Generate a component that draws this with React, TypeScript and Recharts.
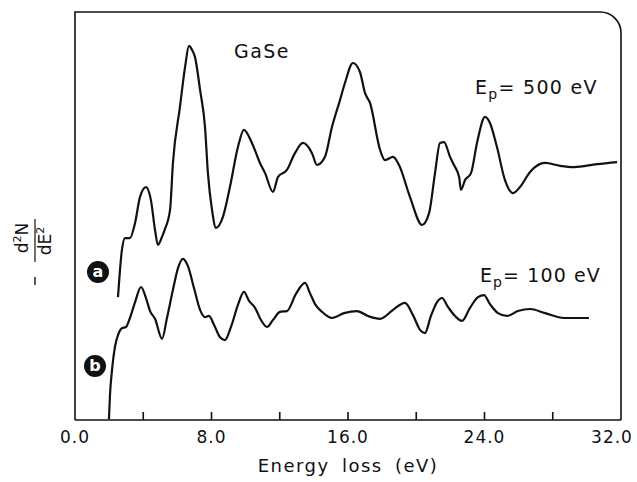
import { LineChart, Line, XAxis, YAxis, Customized } from 'recharts';

// energy loss (eV) and -d2N/dE2 (arbitrary units, 0..100 of the frame height)
const energyA = [
  2.52, 2.75, 2.93, 3.22, 3.52, 3.81, 4.16, 4.45, 4.69, 4.86, 5.1, 5.27, 5.57, 5.74, 6.15, 6.45,
  6.68, 6.86, 7.03, 7.33, 7.62, 7.79, 8.03, 8.26, 8.67, 9.08, 9.55, 9.9, 10.37, 10.84, 11.14,
  11.6, 11.9, 12.42, 12.89, 13.36, 13.89, 14.18, 14.65, 15.06, 15.53, 15.82, 16.29, 16.7, 17.0,
  17.29, 17.88, 18.17, 18.64, 18.99, 19.63, 20.34, 20.75, 21.1, 21.39, 21.63, 21.98, 22.21,
  22.51, 22.62, 22.86, 23.21, 23.56, 24.03, 24.32, 24.73, 25.2, 25.67, 26.08, 26.67, 27.55,
  28.43, 29.25, 30.59, 31.77,
];
const signalA = [
  30.1, 41.7, 44.6, 44.6, 48.3, 54.7, 57.1, 53.9, 46.6, 42.9, 44.9, 46.8, 51.5, 63.0, 76.7, 86.5,
  91.7, 90.7, 89.0, 80.9, 71.8, 60.5, 51.5, 47.1, 49.8, 57.1, 66.9, 71.1, 67.9, 63.0, 60.5,
  55.9, 59.6, 61.3, 65.4, 67.9, 65.4, 62.5, 64.5, 71.8, 78.4, 82.6, 87.5, 85.3, 80.1,
  77.7, 66.2, 63.7, 64.5, 62.5, 54.7, 47.8, 50.7, 60.5, 67.9, 68.1, 64.5, 62.5,
  59.6, 56.4, 58.8, 60.5, 67.9, 74.3, 72.8, 66.9, 58.8, 55.6, 57.1, 60.8, 63.0,
  62.3, 62.0, 62.7, 63.2,
];

const energyB = [
  1.99, 2.05, 2.17, 2.34, 2.52, 2.75, 2.99, 3.22, 3.52, 3.87, 4.16, 4.4, 4.69, 5.1, 5.39, 5.74,
  6.04, 6.33, 6.62, 6.97, 7.33, 7.62, 7.85, 8.15, 8.5, 8.79, 9.14, 9.55, 9.9, 10.2, 10.55, 10.9,
  11.25, 11.6, 12.01, 12.42, 12.95, 13.48, 13.77, 14.07, 14.48, 15.06, 15.77, 16.53, 17.17,
  17.88, 18.64, 19.34, 19.81, 20.22, 20.51, 20.86, 21.22, 21.51, 21.86, 22.27, 22.68, 23.15,
  23.62, 23.97, 24.32, 24.79, 25.32, 25.96, 26.67, 27.55, 28.66, 30.12,
];
const signalB = [
  0.2, 6.1, 12.3, 17.9, 20.8, 22.5, 22.8, 25.0, 28.9, 32.6, 29.9, 26.7, 24.8, 19.9, 25.0, 31.9,
  37.3, 39.5, 37.7, 32.4, 27.0, 25.2, 25.5, 23.3, 20.3, 19.6, 22.8, 28.2, 31.4, 29.2, 27.5, 24.5,
  22.8, 24.5, 26.5, 26.7, 30.9, 33.6, 31.1, 28.4, 26.5, 25.0, 26.2, 26.7, 25.5,
  24.8, 27.0, 28.7, 25.7, 22.1, 21.3, 25.5, 28.9, 29.9, 27.7, 25.5, 24.3, 27.5,
  30.1, 30.6, 28.4, 26.2, 25.5, 26.7, 27.2, 26.2, 25.0, 25.0,
];

const energyTicks = [0, 4, 8, 12, 16, 20, 24, 28, 32];

const curveA = energyA.map((e, i) => ({ e, v: signalA[i] }));
const curveB = energyB.map((e, i) => ({ e, v: signalB[i] }));

const FONT = '"DejaVu Sans", sans-serif';

function EnergyTick({ x, y, payload }: { x?: number; y?: number; payload?: { value: number } }) {
  const v = payload?.value ?? 0;
  const px = x ?? 0;
  const py = y ?? 0;
  // last label sits inside the page edge, as in the original
  const lx = v === 32 ? px - 9 : px;
  return (
    <g>
      {v > 0 && v < 32 && (
        <line x1={px} y1={py} x2={px} y2={py - 8} stroke="#111" strokeWidth={1.6} />
      )}
      {v % 8 === 0 && (
        <text x={lx} y={py + 23} textAnchor="middle" fontFamily={FONT} fontSize={17}
          letterSpacing={1} fill="#111">
          {v.toFixed(1)}
        </text>
      )}
    </g>
  );
}

function Marker({ cx, cy, letter }: { cx: number; cy: number; letter: string }) {
  return (
    <g>
      <circle cx={cx} cy={cy} r={11} fill="#111" />
      <text x={cx} y={cy + 5} textAnchor="middle" fontFamily={FONT} fontSize={16}
        fontWeight="bold" fill="#fff">{letter}</text>
    </g>
  );
}

function Decorations() {
  return (
    <g>
      <path d="M75,420 L75,12 L600,12 A21,21 0 0 1 621,33 L621,420" fill="none"
        stroke="#111" strokeWidth={1.6} />
      <text x={262} y={58} textAnchor="middle" fontFamily={FONT} fontSize={19}
        letterSpacing={1.5} fill="#111">GaSe</text>
      <text x={475} y={94} fontFamily={FONT} fontSize={19} letterSpacing={1.3} fill="#111">
        E<tspan dy={5} fontSize={14}>p</tspan><tspan dy={-5}>= 500  eV</tspan>
      </text>
      <text x={480} y={282} fontFamily={FONT} fontSize={19} letterSpacing={1.1} fill="#111">
        E<tspan dy={5} fontSize={14}>p</tspan><tspan dy={-5}>= 100  eV</tspan>
      </text>
      <text x={348} y={472} textAnchor="middle" fontFamily={FONT} fontSize={18}
        letterSpacing={1.5} wordSpacing={5} fill="#111">Energy loss (eV)</text>
      <g fontFamily={FONT} fontSize={17} fill="#111">
        <text transform="translate(28,238) rotate(-90)" textAnchor="middle">
          d<tspan dy={-7} fontSize={11}>2</tspan><tspan dy={7}>N</tspan>
        </text>
        <text transform="translate(51,241) rotate(-90)" textAnchor="middle">
          dE<tspan dy={-7} fontSize={11}>2</tspan>
        </text>
      </g>
      <line x1={35} y1={219} x2={35} y2={262} stroke="#111" strokeWidth={1.2} />
      <line x1={35} y1={277} x2={35} y2={285} stroke="#111" strokeWidth={1.4} />
      <Marker cx={98} cy={272} letter="a" />
      <Marker cx={95} cy={366} letter="b" />
    </g>
  );
}

export default function App() {
  return (
    <div style={{ position: 'absolute', left: 0, top: 0, width: 637, height: 482, background: '#fff' }}>
      <LineChart width={637} height={482} margin={{ top: 12, right: 16, left: 75, bottom: 32 }}>
        <XAxis dataKey="e" type="number" domain={[0, 32]} ticks={energyTicks} interval={0}
          height={30} tickSize={0} tickMargin={0} tickLine={false}
          axisLine={{ stroke: '#111', strokeWidth: 1.6 }} tick={<EnergyTick />} allowDataOverflow />
        <YAxis type="number" domain={[0, 100]} hide />
        <Line data={curveA} dataKey="v" type="monotone" stroke="#111" strokeWidth={2.2}
          dot={false} isAnimationActive={false} />
        <Line data={curveB} dataKey="v" type="monotone" stroke="#111" strokeWidth={2.2}
          dot={false} isAnimationActive={false} />
        <Customized component={<Decorations />} />
      </LineChart>
    </div>
  );
}
